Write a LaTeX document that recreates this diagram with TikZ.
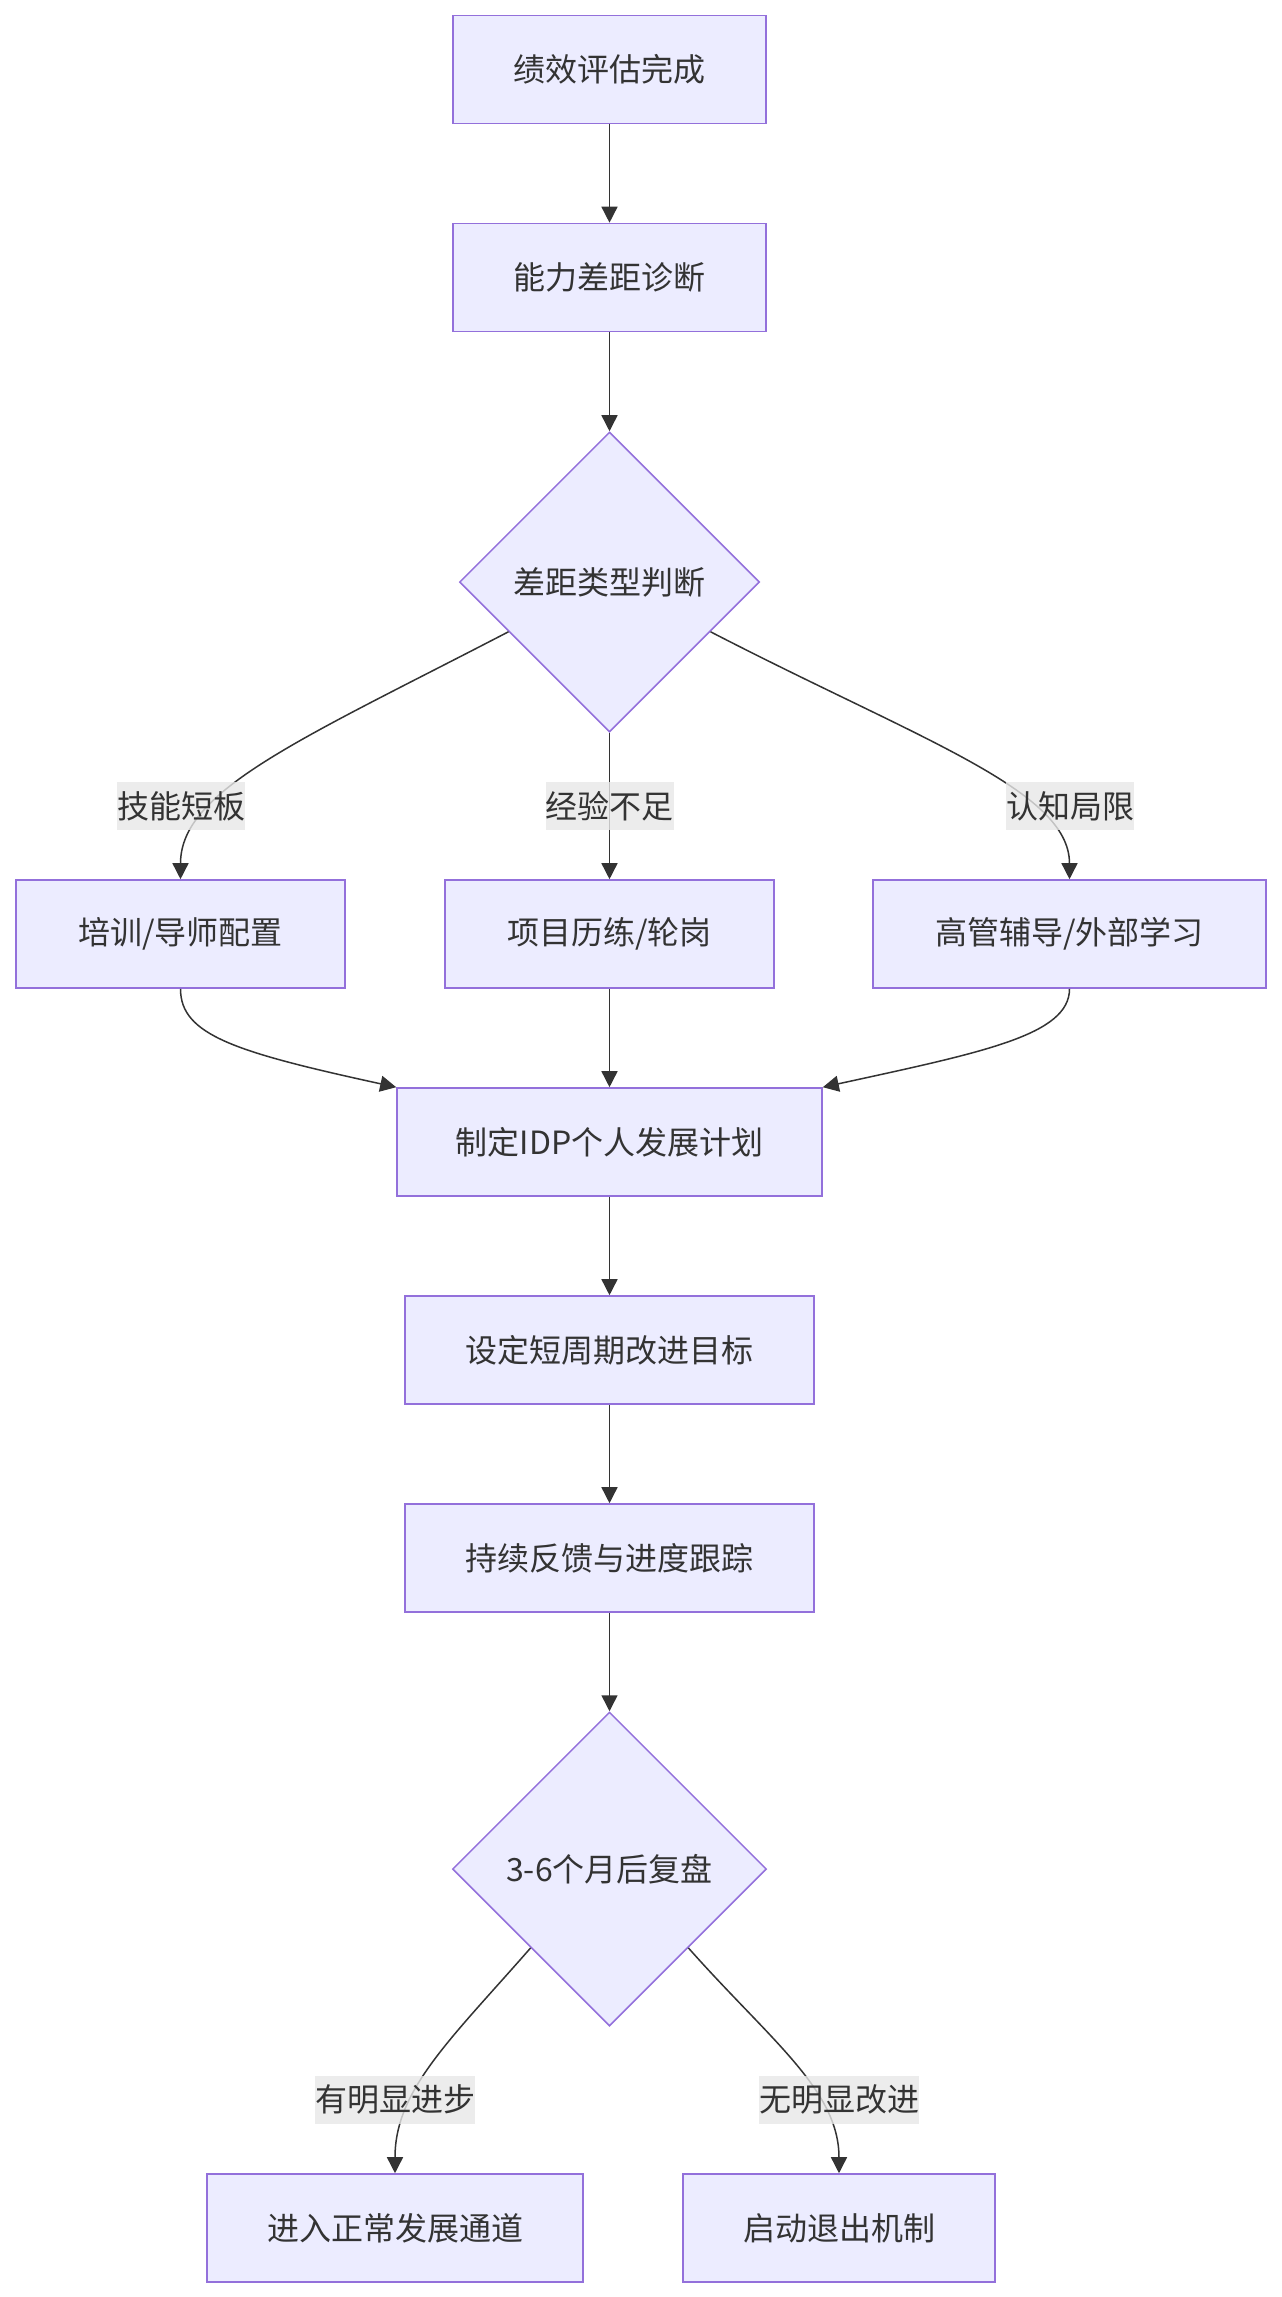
\documentclass[tikz,border=0pt]{standalone}
\usepackage{fontspec}
\setmainfont{Noto Sans CJK SC}
\usetikzlibrary{shapes.geometric,arrows.meta,calc}
\definecolor{nodefill}{HTML}{ECECFF}
\definecolor{nodeline}{HTML}{9370DB}
\definecolor{edgecol}{HTML}{333333}
\definecolor{lblfill}{HTML}{E8E8E8}
\definecolor{txt}{HTML}{333333}
\begin{document}
\begin{tikzpicture}[x=1pt,y=-1pt,
  every node/.style={font=\fontsize{32}{38}\selectfont, text=txt},
  box/.style={draw=nodeline, fill=nodefill, line width=1.6pt, minimum height=108pt, inner sep=0pt},
  dia/.style={diamond, aspect=1, draw=nodeline, fill=nodefill, line width=1.5pt, inner sep=0pt, minimum width=#1, minimum height=#1},
  lbl/.style={fill=lblfill, fill opacity=0.8, text opacity=1, inner sep=0pt, minimum height=48pt, minimum width=#1},
  flow/.style={draw=edgecol, line width=1.5pt, -{Triangle[length=16pt,width=16pt]}},
]
\fill[white] (0,0) rectangle (1282,2297);
\useasboundingbox (0,0) rectangle (1282,2297);

\node[box, minimum width=313pt] (n1) at (609.5,69.5) {绩效评估完成};
\node[box, minimum width=313pt] (n2) at (609.5,277.5) {能力差距诊断};
\node[dia=300pt] (d1) at (609.5,582) {差距类型判断};
\node[box, minimum width=329pt] (a) at (180.5,934) {培训/导师配置};
\node[box, minimum width=329pt] (b) at (609.5,934) {项目历练/轮岗};
\node[box, minimum width=393pt] (c) at (1069.5,934) {高管辅导/外部学习};
\node[box, minimum width=425pt] (idp) at (609.5,1142) {制定IDP个人发展计划};
\node[box, minimum width=409pt] (goal) at (609.5,1350) {设定短周期改进目标};
\node[box, minimum width=409pt] (track) at (609.5,1558) {持续反馈与进度跟踪};
\node[dia=314pt] (d2) at (609.5,1869) {3-6个月后复盘};
\node[box, minimum width=376pt] (ok) at (395,2228) {进入正常发展通道};
\node[box, minimum width=312pt] (exit) at (839,2228) {启动退出机制};

\coordinate (d1l) at ($(d1.west)!0.33!(d1.south)$);
\coordinate (d1r) at ($(d1.east)!0.33!(d1.south)$);

\draw[flow] (n1) -- (n2);
\draw[flow] (n2) -- (d1);
\draw[flow] (d1l) .. controls (300,740) and (180.5,790) .. (a.north);
\draw[flow] (d1) -- (b);
\draw[flow] (d1r) .. controls (920,740) and (1069.5,790) .. (c.north);
\draw[flow] (a.south) .. controls (180.5,1035) and (235,1052) .. (idp.north west);
\draw[flow] (b) -- (idp);
\draw[flow] (c.south) .. controls (1069.5,1035) and (984,1052) .. (idp.north east);
\draw[flow] (idp) -- (goal);
\draw[flow] (goal) -- (track);
\draw[flow] (track) -- (d2);
\draw[flow] (d2.south west) .. controls (450,2040) and (395,2090) .. (ok.north);
\draw[flow] (d2.south east) .. controls (770,2040) and (839,2090) .. (exit.north);

\node[lbl=128pt] (l1) at (181,806) {技能短板};
\node[lbl=128pt] (l2) at (609.5,806) {经验不足};
\node[lbl=128pt] (l3) at (1070,806) {认知局限};
\node[lbl=160pt] (l4) at (395,2099.5) {有明显进步};
\node[lbl=160pt] (l5) at (839,2099.5) {无明显改进};
\end{tikzpicture}
\end{document}
